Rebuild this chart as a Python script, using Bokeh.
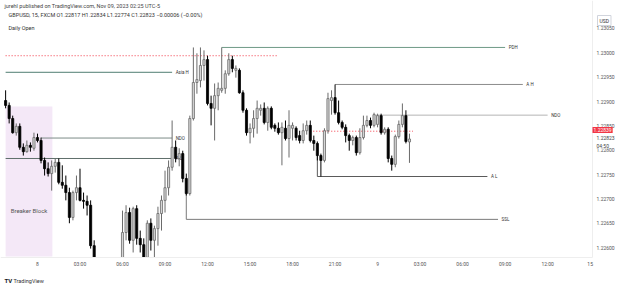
import numpy as np
from bokeh.plotting import figure
from bokeh.models import Range1d, Label, ColumnDataSource
from bokeh.core.properties import value
from bokeh.embed import file_html
from bokeh.resources import INLINE

# ---------------- data ----------------
# 15-minute bars, time in hours from Nov 8 00:00 (first bar 21:45 Nov 7, last 02:15 Nov 9)
bar_time = list(np.arange(115) * 0.25 - 2.25)

opens = [1.22902, 1.22892, 1.22865, 1.22836, 1.22849, 1.22806, 1.22797, 1.22810, 1.22804, 1.22826,
         1.22820, 1.22779, 1.22762, 1.22752, 1.22767, 1.22775, 1.22734, 1.22728, 1.22713, 1.22662,
         1.22713, 1.22723, 1.22697, 1.22695, 1.22687, 1.22604, 1.22569, 1.22543, 1.22557, 1.22522,
         1.22537, 1.22553, 1.22569, 1.22561, 1.22631, 1.22672, 1.22615, 1.22680, 1.22619, 1.22606,
         1.22580, 1.22650, 1.22615, 1.22639, 1.22670, 1.22697, 1.22723, 1.22765, 1.22806, 1.22783,
         1.22793, 1.22742, 1.22711, 1.22865, 1.22939, 1.22943, 1.22974, 1.22986, 1.22896, 1.22886,
         1.22912, 1.22923, 1.22927, 1.22957, 1.22986, 1.22964, 1.22964, 1.22918, 1.22882, 1.22836,
         1.22845, 1.22865, 1.22882, 1.22886, 1.22857, 1.22886, 1.22851, 1.22845, 1.22836, 1.22845,
         1.22824, 1.22845, 1.22845, 1.22830, 1.22820, 1.22840, 1.22851, 1.22820, 1.22814, 1.22789,
         1.22779, 1.22840, 1.22902, 1.22908, 1.22877, 1.22857, 1.22847, 1.22830, 1.22820, 1.22826,
         1.22795, 1.22826, 1.22851, 1.22861, 1.22851, 1.22853, 1.22871, 1.22836, 1.22843, 1.22783,
         1.22771, 1.22828, 1.22853, 1.22871, 1.22817]
highs = [1.22923, 1.22898, 1.22871, 1.22855, 1.22855, 1.22814, 1.22820, 1.22816, 1.22836, 1.22834,
         1.22826, 1.22785, 1.22775, 1.22779, 1.22783, 1.22783, 1.22769, 1.22748, 1.22723, 1.22717,
         1.22748, 1.22762, 1.22713, 1.22707, 1.22697, 1.22615, 1.22576, 1.22569, 1.22565, 1.22553,
         1.22563, 1.22574, 1.22574, 1.22676, 1.22687, 1.22682, 1.22684, 1.22687, 1.22635, 1.22619,
         1.22656, 1.22660, 1.22645, 1.22684, 1.22707, 1.22758, 1.22779, 1.22861, 1.22820, 1.22804,
         1.22799, 1.22752, 1.22871, 1.23011, 1.22999, 1.23011, 1.23005, 1.22994, 1.22912, 1.22937,
         1.22939, 1.23011, 1.22964, 1.22999, 1.22994, 1.22974, 1.22968, 1.22923, 1.22886, 1.22855,
         1.22882, 1.22902, 1.22894, 1.22898, 1.22890, 1.22890, 1.22855, 1.22857, 1.22857, 1.22861,
         1.22882, 1.22857, 1.22849, 1.22840, 1.22855, 1.22861, 1.22861, 1.22830, 1.22818, 1.22793,
         1.22845, 1.22918, 1.22923, 1.22935, 1.22902, 1.22861, 1.22853, 1.22834, 1.22830, 1.22830,
         1.22845, 1.22871, 1.22871, 1.22867, 1.22877, 1.22875, 1.22875, 1.22847, 1.22847, 1.22789,
         1.22832, 1.22861, 1.22896, 1.22882, 1.22834]
lows = [1.22886, 1.22855, 1.22834, 1.22830, 1.22801, 1.22789, 1.22795, 1.22797, 1.22799, 1.22816,
        1.22773, 1.22748, 1.22746, 1.22717, 1.22754, 1.22730, 1.22721, 1.22697, 1.22650, 1.22656,
        1.22697, 1.22695, 1.22680, 1.22666, 1.22598, 1.22557, 1.22533, 1.22528, 1.22512, 1.22508,
        1.22528, 1.22541, 1.22549, 1.22557, 1.22615, 1.22608, 1.22590, 1.22606, 1.22590, 1.22569,
        1.22569, 1.22594, 1.22578, 1.22604, 1.22635, 1.22672, 1.22707, 1.22758, 1.22775, 1.22767,
        1.22734, 1.22707, 1.22707, 1.22861, 1.22916, 1.22929, 1.22943, 1.22892, 1.22851, 1.22820,
        1.22882, 1.22918, 1.22916, 1.22953, 1.22960, 1.22949, 1.22916, 1.22877, 1.22830, 1.22814,
        1.22826, 1.22834, 1.22871, 1.22853, 1.22840, 1.22843, 1.22838, 1.22832, 1.22769, 1.22820,
        1.22785, 1.22820, 1.22820, 1.22814, 1.22814, 1.22832, 1.22816, 1.22799, 1.22779, 1.22746,
        1.22775, 1.22834, 1.22873, 1.22873, 1.22853, 1.22843, 1.22816, 1.22799, 1.22810, 1.22789,
        1.22791, 1.22822, 1.22847, 1.22845, 1.22847, 1.22847, 1.22832, 1.22832, 1.22775, 1.22758,
        1.22765, 1.22824, 1.22847, 1.22814, 1.22774]
closes = [1.22892, 1.22865, 1.22836, 1.22849, 1.22806, 1.22797, 1.22810, 1.22806, 1.22826, 1.22820,
          1.22779, 1.22762, 1.22752, 1.22767, 1.22775, 1.22734, 1.22728, 1.22713, 1.22662, 1.22713,
          1.22723, 1.22697, 1.22695, 1.22687, 1.22604, 1.22569, 1.22543, 1.22557, 1.22522, 1.22537,
          1.22553, 1.22569, 1.22561, 1.22631, 1.22672, 1.22615, 1.22680, 1.22619, 1.22606, 1.22580,
          1.22650, 1.22615, 1.22639, 1.22670, 1.22697, 1.22723, 1.22765, 1.22806, 1.22783, 1.22793,
          1.22742, 1.22711, 1.22865, 1.22939, 1.22945, 1.22974, 1.22986, 1.22896, 1.22886, 1.22912,
          1.22927, 1.22927, 1.22957, 1.22986, 1.22968, 1.22968, 1.22918, 1.22882, 1.22836, 1.22845,
          1.22865, 1.22886, 1.22886, 1.22857, 1.22886, 1.22847, 1.22845, 1.22836, 1.22847, 1.22824,
          1.22851, 1.22851, 1.22826, 1.22820, 1.22840, 1.22851, 1.22820, 1.22814, 1.22789, 1.22779,
          1.22840, 1.22906, 1.22908, 1.22877, 1.22857, 1.22847, 1.22830, 1.22820, 1.22826, 1.22795,
          1.22826, 1.22851, 1.22861, 1.22851, 1.22873, 1.22871, 1.22836, 1.22843, 1.22783, 1.22771,
          1.22828, 1.22853, 1.22871, 1.22818, 1.22823]

# horizontal levels drawn on the chart
level_names = ["Asia H", "NDO", "A L", "PDH", "A H", "NDO", "A L", "SSL"]
level_price = [1.22960, 1.22825, 1.22783, 1.23011, 1.22935, 1.22872, 1.22746, 1.22658]
level_t0 = [-2.25, 0.25, -2.25, 13.0, 21.0, 23.75, 19.75, 10.5]
level_t1 = [9.5, 9.5, 9.5, 33.0, 34.25, 36.0, 31.75, 32.5]
level_color = ["#4f7d72", "#7c8c87", "#5f6f6b", "#6f9a86", "#8c8c8c", "#b4b4b4", "#5a5a5a", "#7a7a7a"]
# connectors from candle to level
conn_t = [19.75, 10.5]
conn_p0 = [1.22789, 1.22711]
conn_p1 = [1.22746, 1.22658]

# daily open (dotted)
open_price = [1.22994, 1.22839]
open_t0 = [-2.25, 19.25]
open_t1 = [16.9, 26.5]

# breaker block zone
bb_t0, bb_t1 = [-2.25], [1.05]
bb_top, bb_bot = [1.22890], [1.22582]

price_ticks = [1.22600, 1.22650, 1.22700, 1.22750, 1.22800, 1.22850, 1.22900, 1.22950, 1.23000, 1.23050]
time_ticks = [0, 3, 6, 9, 12, 15, 18, 21, 24, 27, 30, 33, 36, 39]
time_labels = ["8", "03:00", "06:00", "09:00", "12:00", "15:00", "18:00", "21:00",
               "9", "03:00", "06:00", "09:00", "12:00", "15"]

# ---------------- figure (frame = whole canvas) ----------------
FONT = "Roboto"
W, H = 625, 287
PX_PER_H = 14.170
PX_PER_P = 257.0 / 0.005277
X0 = -2.611
X1 = X0 + W / PX_PER_H
Y1 = 1.231074
Y0 = Y1 - H / PX_PER_P


def px_x(px):
    return X0 + px / PX_PER_H


def px_y(py):
    return Y1 - py / PX_PER_P


p = figure(width=W, height=H, output_backend="svg", toolbar_location=None,
           x_range=Range1d(X0, X1), y_range=Range1d(Y0, Y1),
           x_axis_location=None, y_axis_location=None,
           min_border_left=0, min_border_right=0, min_border_top=0, min_border_bottom=0)
p.xgrid.visible = False
p.ygrid.visible = False
p.outline_line_color = None
p.background_fill_color = "white"
p.border_fill_color = "white"

PANE_R = 592   # right edge of price pane (px)
PANE_B = 257   # bottom edge of price pane (px)

# breaker block
p.quad(left=bb_t0, right=bb_t1, top=bb_top, bottom=bb_bot, fill_color="#f4e8f7", line_color=None)
p.text(x=[(bb_t0[0] + bb_t1[0]) / 2], y=[px_y(210)], text=["Breaker Block"], text_font=value(FONT),
       text_font_size="6px", text_color="#555555", text_align="center", text_baseline="middle")

# daily open dotted lines
p.segment(x0=open_t0, y0=open_price, x1=open_t1, y1=open_price, line_color="#f23645",
          line_width=1, line_dash="1 2")

# levels
lsrc = ColumnDataSource(dict(t0=level_t0, t1=level_t1, p=level_price, c=level_color,
                             name=level_names, tl=[t + 0.25 for t in level_t1]))
p.segment(x0="t0", y0="p", x1="t1", y1="p", line_color="c", line_width=1, source=lsrc)
p.segment(x0=conn_t, y0=conn_p0, x1=conn_t, y1=conn_p1, line_color=["#5a5a5a", "#7a7a7a"], line_width=1)
p.text(x="tl", y="p", text="name", source=lsrc, text_font=value(FONT), text_font_size="4.5px",
       text_color="#333333", text_baseline="middle")

# candles
up = [c >= o for o, c in zip(opens, closes)]
csrc = ColumnDataSource(dict(
    t=bar_time, o=opens, h=highs, l=lows, c=closes,
    top=[max(o, c) for o, c in zip(opens, closes)],
    bot=[min(o, c) for o, c in zip(opens, closes)],
    fill=["#d6d6d6" if u else "#000000" for u in up],
    line=["#6a6a6a" if u else "#000000" for u in up]))
p.segment(x0="t", y0="h", x1="t", y1="l", line_color="line", line_width=1, source=csrc)
p.vbar(x="t", width=0.15, top="top", bottom="bot", fill_color="fill", line_color="line",
       line_width=0.8, source=csrc)

# mask the axis areas (price scale at right, time scale at bottom)
p.quad(left=[px_x(PANE_R), X0], right=[X1, X1], top=[Y1, px_y(PANE_B)], bottom=[Y0, Y0],
       fill_color="white", line_color=None)
p.segment(x0=[px_x(PANE_R)], y0=[Y1], x1=[px_x(PANE_R)], y1=[px_y(PANE_B)], line_color="#eeeeee", line_width=1)
p.segment(x0=[X0], y0=[px_y(PANE_B)], x1=[px_x(PANE_R)], y1=[px_y(PANE_B)], line_color="#eeeeee", line_width=1)

# price scale labels
p.text(x=[px_x(596)] * len(price_ticks), y=price_ticks, text=["%.5f" % v for v in price_ticks],
       text_font=value(FONT), text_font_size="5px", text_color="#555555", text_baseline="middle")
# time scale labels
p.text(x=time_ticks, y=[px_y(263)] * len(time_ticks), text=time_labels,
       text_font=value(FONT), text_font_size="5px", text_color="#555555",
       text_align="center", text_baseline="middle")


def lab(text, x, y, size="5.5px", color="#333333", **kw):
    p.add_layout(Label(x=px_x(x), y=px_y(y), text=text, text_font=FONT, text_font_size=size,
                       text_color=color, text_baseline="middle", **kw))


lab("jurehl published on TradingView.com, Nov 09, 2023 02:25 UTC-5", 4, 5, "5.5px", "#444444")
lab("GBPUSD, 15, FXCM  O1.22817  H1.22834  L1.22774  C1.22823  \u22120.00006 (\u22120.00%)", 8, 14, "5.5px", "#333333")
lab("Daily Open", 8, 27, "5.5px", "#333333")

# price scale badges
lab("USD", 597, 20, "5px", "#333333", background_fill_color="white", border_line_color="#d1d4dc",
    padding=2)
lab("1.22839", 592, 129.5, "5px", "white", background_fill_color="#f23645", padding=1)
lab("1.22823", 596, 137.5, "5px", "#444444", background_fill_color="white", padding=0)
lab("04:50", 596, 145, "5px", "#444444", background_fill_color="white", padding=0)

# footer logo
lab("TV", 4, 280, "6px", "#131722", text_font_style="bold")
lab("TradingView", 13, 280, "5.5px", "#333333")

open("out.html", "w").write(file_html(p, INLINE))
